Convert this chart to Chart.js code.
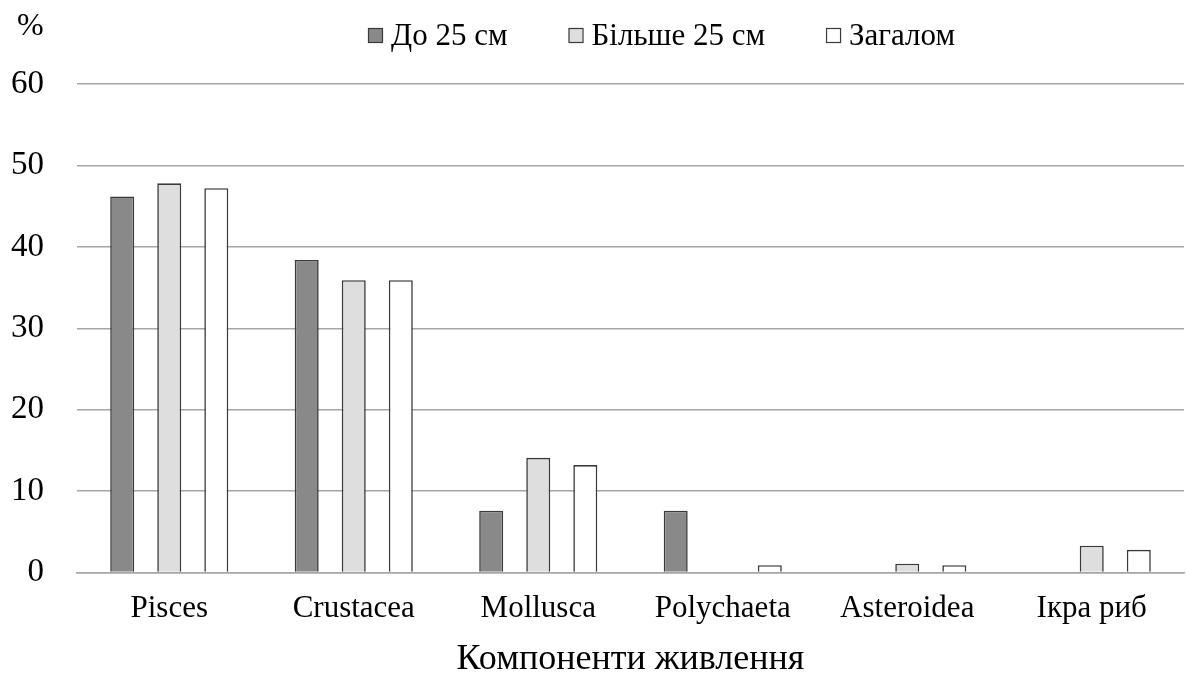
<!DOCTYPE html>
<html>
<head>
<meta charset="utf-8">
<script src="https://cdn.jsdelivr.net/npm/chart.js@4.4.0/dist/chart.umd.min.js"></script>
<style>
  html, body { margin: 0; padding: 0; background: #ffffff; }
  canvas { display: block; }
</style>
</head>
<body>
<canvas id="chart" width="1186" height="675"></canvas>
<script>
// Food components and their share (%) by fish length group
const categories = ['Pisces', 'Crustacea', 'Mollusca', 'Polychaeta', 'Asteroidea', 'Ікра риб'];
const seriesNames = ['До 25 см', 'Більше 25 см', 'Загалом'];
const upTo25 = [46.2, 38.4, 7.6, 7.6, 0, 0];
const over25 = [47.8, 35.9, 14.1, 0, 1.1, 3.3];
const overall = [47.2, 35.9, 13.2, 0.9, 0.9, 2.8];
const yTicks = [0, 10, 20, 30, 40, 50, 60];

const SERIF = '"Liberation Serif", "Times New Roman", serif';
const fills = ['#898989', '#dedede', '#ffffff'];
const edge = '#3a3a3a';

// "%" unit label above the value axis
const unitLabel = {
  id: 'unitLabel',
  afterDraw(chart) {
    const ctx = chart.ctx;
    ctx.save();
    ctx.font = '32px ' + SERIF;
    ctx.fillStyle = '#000';
    ctx.textBaseline = 'alphabetic';
    ctx.textAlign = 'left';
    ctx.fillText('%', 17, 35);
    ctx.restore();
  }
};

// Legend row: small square swatch followed by the series name
const legendRow = {
  id: 'legendRow',
  afterDraw(chart) {
    const ctx = chart.ctx;
    ctx.save();
    ctx.font = '31px ' + SERIF;
    ctx.textBaseline = 'alphabetic';
    ctx.textAlign = 'left';
    let x = 368;
    chart.data.datasets.forEach((ds) => {
      ctx.fillStyle = ds.backgroundColor;
      ctx.fillRect(x, 28, 14, 14);
      ctx.strokeStyle = edge;
      ctx.lineWidth = 1.2;
      ctx.strokeRect(x + 0.5, 28.5, 14, 14);
      ctx.fillStyle = '#000';
      ctx.fillText(ds.label, x + 23, 45);
      x += 23 + ctx.measureText(ds.label).width + 61;
    });
    ctx.restore();
  }
};

new Chart(document.getElementById('chart'), {
  type: 'bar',
  data: {
    labels: categories,
    datasets: [
      { label: seriesNames[0], data: upTo25, backgroundColor: fills[0] },
      { label: seriesNames[1], data: over25, backgroundColor: fills[1] },
      { label: seriesNames[2], data: overall, backgroundColor: fills[2] }
    ]
  },
  options: {
    responsive: false,
    animation: false,
    devicePixelRatio: 1,
    layout: { padding: { top: 84, left: 11, right: 2, bottom: 0 } },
    datasets: {
      bar: {
        categoryPercentage: 0.765,
        barPercentage: 0.51,
        borderColor: edge,
        borderWidth: 1.6
      }
    },
    plugins: {
      legend: { display: false },
      tooltip: { enabled: false }
    },
    scales: {
      x: {
        grid: { display: false, drawTicks: false },
        border: { display: true, color: '#a6a6a6', width: 1.5 },
        ticks: { color: '#000', font: { family: SERIF, size: 31 }, padding: 18 },
        title: {
          display: true,
          text: 'Компоненти живлення',
          color: '#000',
          font: { family: SERIF, size: 36 },
          padding: { top: -8, bottom: -6 }
        }
      },
      y: {
        min: 0,
        max: 60,
        afterBuildTicks(scale) {
          scale.ticks = yTicks.map(v => ({ value: v }));
        },
        afterFit(scale) {
          scale.width = 66;
        },
        grid: { color: '#a6a6a6', lineWidth: 1.5, drawTicks: false },
        border: { display: false },
        ticks: { color: '#000', font: { family: SERIF, size: 33 }, padding: 33 }
      }
    }
  },
  plugins: [unitLabel, legendRow]
});
</script>
</body>
</html>
